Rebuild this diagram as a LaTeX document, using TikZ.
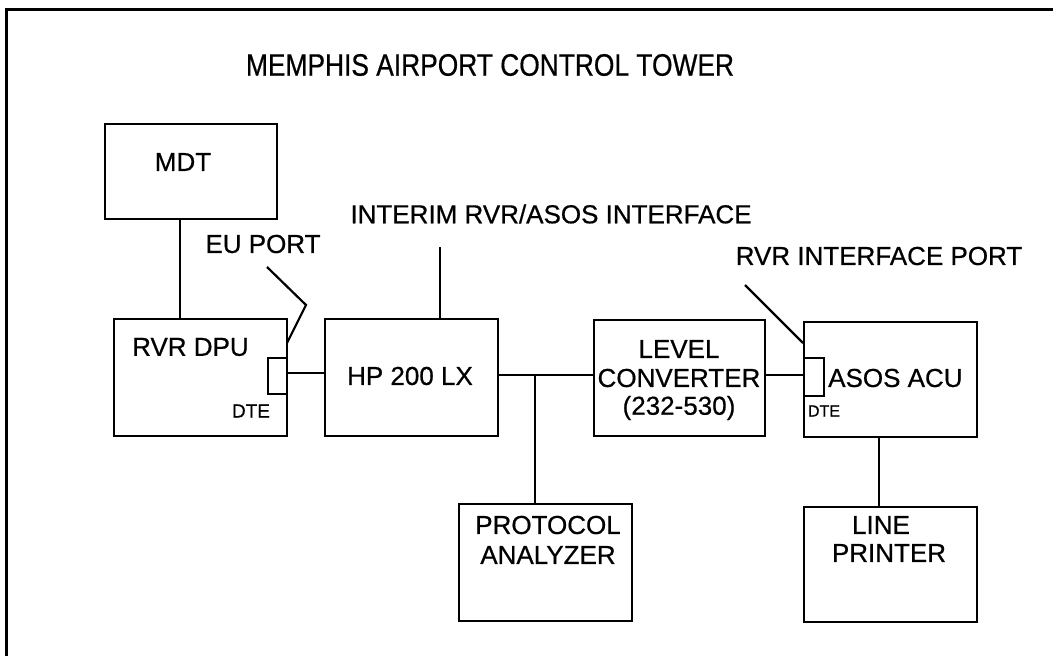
\documentclass[tikz,border=0pt]{standalone}
\usepackage{fontspec}
\setmainfont[FakeBold=0.6]{Liberation Sans}
\newfontfamily\titlefont[FakeStretch=0.85,FakeBold=0.6]{Liberation Sans}
\begin{document}
\begin{tikzpicture}[x=1pt,y=-1pt,
  box/.style={draw, line width=2.2pt, inner sep=0pt, anchor=north west},
  lbl/.style={inner sep=0pt, font=\fontsize{26}{28}\selectfont},
  small/.style={inner sep=0pt, font=\fontsize{19}{20}\selectfont},
  wire/.style={line width=2.2pt}]
\useasboundingbox (0,0) rectangle (1053,656);
\clip (0,0) rectangle (1053,656);
% frame
\draw[line width=3pt] (6,700) -- (6,9) -- (1100,9);
% title
\node[inner sep=0pt, font=\titlefont\fontsize{31}{33}\selectfont] (title) at (490,65) {MEMPHIS AIRPORT CONTROL TOWER};
% boxes
\node[box, minimum width=172pt, minimum height=95pt] (mdt) at (104,123) {};
\node[box, minimum width=173pt, minimum height=117pt] (dpu) at (113,318) {};
\node[box, minimum width=19pt, minimum height=36pt] (dpuport) at (267,357) {};
\node[box, minimum width=173pt, minimum height=117pt] (hp) at (324,318) {};
\node[box, minimum width=171pt, minimum height=116pt] (lc) at (593,319) {};
\node[box, minimum width=173pt, minimum height=115pt] (asos) at (803,321) {};
\node[box, minimum width=20pt, minimum height=38pt] (asosport) at (803,357) {};
\node[box, minimum width=173pt, minimum height=117pt] (pa) at (458,503) {};
\node[box, minimum width=173pt, minimum height=115pt] (lp) at (803,506) {};
% texts
\node[lbl] (tmdt) at (183,162) {MDT};
\node[lbl, anchor=west] (tdpu) at (132,347) {RVR DPU};
\node[small] (tdte1) at (251,411) {DTE};
\node[lbl] (teu) at (263,244) {EU PORT};
\node[lbl] (thp) at (410,376) {HP 200 LX};
\node[lbl] (tint) at (551,214) {INTERIM RVR/ASOS INTERFACE};
\node[lbl] (tlevel) at (679,349) {LEVEL};
\node[lbl] (tconv) at (679,378) {CONVERTER};
\node[lbl] (tnum) at (679,408) {(232-530)};
\node[lbl, anchor=west] (tasos) at (828,378) {ASOS ACU};
\node[inner sep=0pt, font=\fontsize{16}{18}\selectfont] (tdte2) at (824,411) {DTE};
\node[lbl] (trip) at (879,256) {RVR INTERFACE PORT};
\node[lbl] (tprot) at (548,525) {PROTOCOL};
\node[lbl] (tanal) at (548,555) {ANALYZER};
\node[lbl] (tline) at (881,525) {LINE};
\node[lbl] (tprint) at (889,553) {PRINTER};
% leader coordinates
\coordinate (eu1) at (267,267);
\coordinate (eu2) at (306,305);
\coordinate (eu3) at (287,343);
\coordinate (rip1) at (745,285);
\coordinate (rip2) at (803,343);
\coordinate (intop) at (440,247);
\coordinate (tap) at (535,375);
% connectors
\draw[wire] (mdt.south -| 180,0) -- (dpu.north -| 180,0);
\draw[wire] (eu1) -- (eu2) -- (eu3);
\draw[wire] (dpuport.east |- 0,373) -- (hp.west |- 0,373);
\draw[wire] (intop) -- (intop |- hp.north);
\draw[wire] (hp.east |- tap) -- (lc.west |- tap);
\draw[wire] (tap) -- (tap |- pa.north);
\draw[wire] (lc.east |- 0,375) -- (asosport.west |- 0,375);
\draw[wire] (rip1) -- (rip2);
\draw[wire] (asos.south -| 879,0) -- (lp.north -| 879,0);
\end{tikzpicture}
\end{document}
